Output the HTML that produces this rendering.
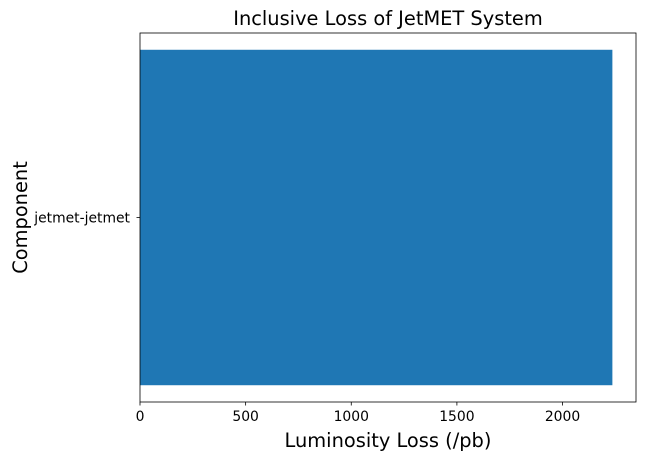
<!DOCTYPE html>
<html><head><meta charset="utf-8"><style>
body{margin:0;background:#fff;}
svg text{font-family:"DejaVu Sans","Liberation Sans",sans-serif;}
</style></head><body>
<svg id="chart" width="646" height="461"></svg>
<script>
const categories = ["jetmet-jetmet"];
const values = [2236];
const xTicks = [0, 500, 1000, 1500, 2000];

const L=140, R=636, T=33, B=402;
const xMax = Math.max(...values)*1.05;
const sx = v => L + v/xMax*(R-L);
const n = categories.length;
const span = (n-1) + 0.8;
const yMin = -0.4 - span*0.05, yMax = (n-1) + 0.4 + span*0.05;
const sy = v => B - (v - yMin)/(yMax - yMin)*(B-T);
const ns="http://www.w3.org/2000/svg";
const svg=document.getElementById('chart');
function mk(tag, attrs){const e=document.createElementNS(ns,tag);for(const k in attrs)e.setAttribute(k,attrs[k]);svg.appendChild(e);return e;}

categories.forEach((c,i)=>{
  const bar=mk('rect',{x:sx(0),y:sy(i+0.4),width:sx(values[i])-sx(0),height:sy(i-0.4)-sy(i+0.4),fill:'#1f77b4'});
  
  
  const tk=mk('line',{x1:L-3.5,x2:L,y1:sy(i),y2:sy(i),stroke:'#000','stroke-width':0.8});
  
  
  const lb=mk('text',{x:L-10,y:sy(i)+5,'text-anchor':'end','font-size':13.9,fill:'#000'});
  lb.textContent=c;
  
  
});
xTicks.forEach(t=>{
  const tk=mk('line',{x1:sx(t),x2:sx(t),y1:B,y2:B+3.5,stroke:'#000','stroke-width':0.8});
  
  
  const lb=mk('text',{x:sx(t),y:B+19,'text-anchor':'middle','font-size':13.9,fill:'#000'});
  lb.textContent=t;
  
  
});
const frame=mk('rect',{x:L,y:T,width:R-L,height:B-T,fill:'none',stroke:'#000','stroke-width':0.8});


const title=mk('text',{x:(L+R)/2,y:25,'text-anchor':'middle','font-size':19.4,fill:'#000'});
title.textContent='Inclusive Loss of JetMET System';


const xt=mk('text',{x:(L+R)/2,y:447,'text-anchor':'middle','font-size':19.4,fill:'#000'});
xt.textContent='Luminosity Loss (/pb)';


const yt=mk('text',{x:27,y:(T+B)/2,'text-anchor':'middle','font-size':19.4,fill:'#000',transform:'rotate(-90 27 '+((T+B)/2)+')'});
yt.textContent='Component';


</script>
</body></html>
